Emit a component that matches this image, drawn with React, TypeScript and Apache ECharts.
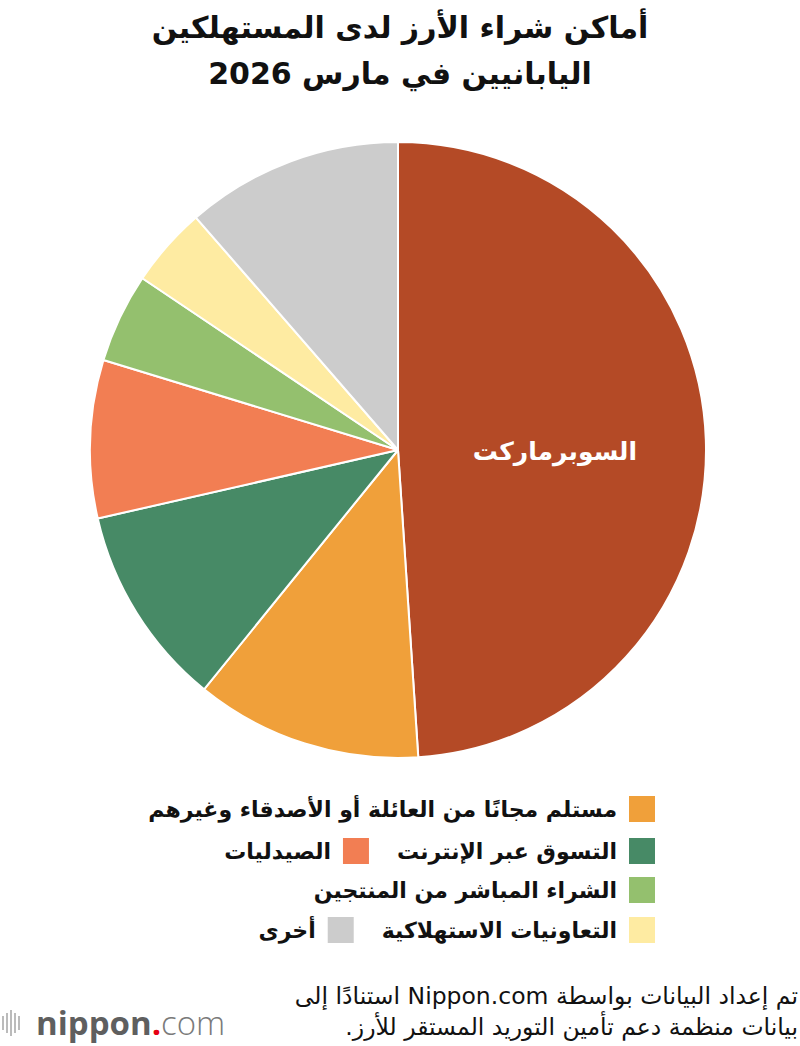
import React, { useEffect, useRef } from "react";
import * as echarts from "echarts";

const categories = [
  "السوبرماركت",
  "مستلم مجانًا من العائلة أو الأصدقاء وغيرهم",
  "التسوق عبر الإنترنت",
  "الصيدليات",
  "الشراء المباشر من المنتجين",
  "التعاونيات الاستهلاكية",
  "أخرى",
];
const shares = [49.0, 11.9, 10.6, 8.3, 4.7, 4.2, 11.4];
const colors = ["#B44A26", "#F0A03A", "#478A66", "#F27E53", "#94C06E", "#FEEBA2", "#CCCCCC"];
const legendRows = [[1], [2, 3], [4], [5, 6]];
const titleLines = ["أماكن شراء الأرز لدى المستهلكين", "اليابانيين في مارس 2026"];
const sourceLines = [
  "تم إعداد البيانات بواسطة Nippon.com استنادًا إلى",
  "بيانات منظمة دعم تأمين التوريد المستقر للأرز.",
];

const FONT = "'DejaVu Sans', sans-serif";
const RTL = (s: string) => "\u202B" + s + "\u202C";

function measure(text: string, font: string): number {
  const c = document.createElement("canvas");
  const ctx = c.getContext("2d")!;
  ctx.font = font;
  return ctx.measureText(text).width;
}

export default function App() {
  const ref = useRef<HTMLDivElement>(null);
  useEffect(() => {
    document.body.style.margin = "0";
    const chart = echarts.init(ref.current!, null, { renderer: "svg" });
    const graphics: any[] = [];
    // title
    titleLines.forEach((t, i) => {
      graphics.push({
        type: "text",
        x: 400,
        y: 27 + i * 46,
        style: {
          text: RTL(t),
          fill: "#111",
          font: `bold 30px ${FONT}`,
          align: "center",
          verticalAlign: "middle",
        },
      });
    });
    // legend
    const rowY = [809, 851, 890, 930];
    const legFont = `bold 22px ${FONT}`;
    legendRows.forEach((row, r) => {
      let right = 655;
      row.forEach((idx) => {
        graphics.push({
          type: "rect",
          shape: { x: right - 26, y: rowY[r] - 13, width: 26, height: 26 },
          style: { fill: colors[idx] },
        });
        const textRight = right - 26 - 12;
        graphics.push({
          type: "text",
          x: textRight,
          y: rowY[r],
          style: {
            text: RTL(categories[idx]),
            fill: "#111",
            font: legFont,
            align: "right",
            verticalAlign: "middle",
          },
        });
        const w = measure(categories[idx], legFont);
        right = textRight - w - 28;
      });
    });
    // source
    sourceLines.forEach((t, i) => {
      graphics.push({
        type: "text",
        x: 798,
        y: 996 + i * 31,
        style: {
          text: RTL(t),
          fill: "#111",
          font: `23.5px ${FONT}`,
          align: "right",
          verticalAlign: "middle",
        },
      });
    });
    // logo
    const barXs = [2, 6, 10, 14, 18];
    const barHs = [14, 20, 26, 20, 14];
    barXs.forEach((bx, i) => {
      graphics.push({
        type: "rect",
        shape: { x: bx, y: 1023 - barHs[i] / 2, width: 2, height: barHs[i] },
        style: { fill: "#bbbbbb" },
      });
    });
    graphics.push({
      type: "text",
      x: 36,
      y: 1022,
      style: {
        text: "{a|nippon}{b|.}{c|com}",
        verticalAlign: "middle",
        rich: {
          a: { font: `bold 33px 'Open Sans', sans-serif`, fill: "#5f5f5f" },
          b: { font: `bold 33px 'Open Sans', sans-serif`, fill: "#e60012" },
          c: { font: `300 33px 'Open Sans', sans-serif`, fill: "#7a7a7a" },
        },
      },
    });

    chart.setOption({
      animation: false,
      graphic: graphics,
      series: [
        {
          type: "pie",
          center: [398, 450],
          radius: [0, 308],
          startAngle: 90,
          clockwise: true,
          silent: true,
          itemStyle: { borderColor: "#fff", borderWidth: 2 },
          labelLine: { show: false },
          data: categories.map((c, i) => ({
            name: c,
            value: shares[i],
            itemStyle: { color: colors[i] },
            label: {
              show: i === 0,
              position: "inner",
              formatter: () => "{t|" + RTL(c) + "}",
              rich: {
                t: {
                  color: "#fff",
                  fontFamily: FONT,
                  fontSize: 25,
                  fontWeight: "bold",
                  padding: [14, 0, 0, 0],
                },
              },
            },
          })),
        },
      ],
    });
    return () => chart.dispose();
  }, []);
  return <div ref={ref} style={{ width: 800, height: 1046 }} />;
}
